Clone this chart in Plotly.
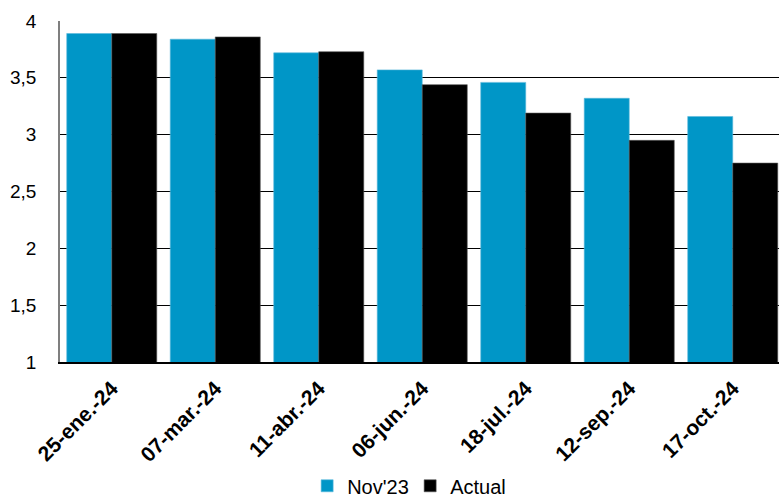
import plotly.graph_objects as go

# Fechas de reunión y trayectoria esperada de la tasa
fechas = ["25-ene.-24", "07-mar.-24", "11-abr.-24", "06-jun.-24",
          "18-jul.-24", "12-sep.-24", "17-oct.-24"]
nov23 = [3.89, 3.84, 3.72, 3.57, 3.46, 3.32, 3.16]
actual = [3.89, 3.86, 3.73, 3.44, 3.19, 2.95, 2.75]
y_ticks = [1, 1.5, 2, 2.5, 3, 3.5, 4]

AZUL = "#0096C7"
FONT = "Liberation Sans, Arial, sans-serif"

fig = go.Figure()
fig.add_trace(go.Bar(x=fechas, y=nov23, name="Nov'23",
                     marker=dict(color=AZUL, line=dict(color="#5ab8dc", width=0.6))))
fig.add_trace(go.Bar(x=fechas, y=actual, name="Actual",
                     marker=dict(color="#000000", line=dict(color="#555555", width=0.6))))

fig.update_layout(
    width=779, height=500,
    margin=dict(l=60, r=0, t=21, b=138, autoexpand=False),
    plot_bgcolor="white", paper_bgcolor="white",
    separators=",.",
    barmode="group", bargap=0.13, bargroupgap=0,
    font=dict(family=FONT, color="#000000", size=19),
    showlegend=True,
    legend=dict(orientation="h", xref="paper", yref="paper",
                x=0.487, xanchor="center", y=-0.363, yanchor="middle",
                font=dict(size=20), traceorder="normal",
                itemwidth=30, tracegroupgap=0, entrywidth=58),
    xaxis=dict(
        type="category", range=[-0.5, 6.447], automargin=False,
        showline=True, linecolor="#000000", linewidth=1.5,
        ticks="", tickangle=-45, ticklabelstandoff=4,
        tickfont=dict(family=FONT, size=21, weight="bold"),
        showgrid=False,
    ),
    xaxis2=dict(overlaying="x", side="top", matches="x",
                showline=True, linecolor="#7f7f7f", linewidth=1.5,
                showticklabels=False, ticks="", showgrid=False),
    yaxis=dict(
        range=[1, 4], tickvals=y_ticks, automargin=False,
        showline=True, linecolor="#7f7f7f", linewidth=1.5,
        showgrid=True, gridcolor="#000000", gridwidth=1,
        ticks="", ticklabelstandoff=18,
        tickfont=dict(size=19),
        zeroline=False,
    ),
)

fig.write_html("out.html")
